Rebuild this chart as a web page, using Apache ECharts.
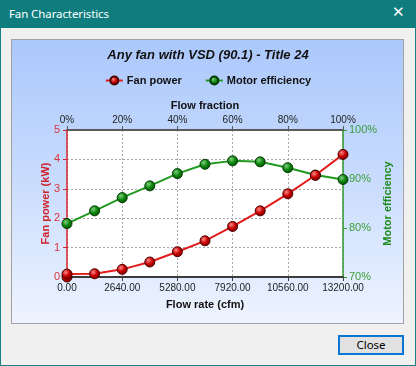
<!DOCTYPE html>
<html>
<head>
<meta charset="utf-8">
<script src="https://cdn.jsdelivr.net/npm/echarts@6/dist/echarts.min.js"></script>
<style>
html,body{margin:0;padding:0;width:416px;height:366px;overflow:hidden;background:#f0f0f0;font-family:"Liberation Sans",Arial,sans-serif;}
#win{position:absolute;left:0;top:0;width:414px;height:365px;border:1px solid #1a7f80;border-top:none;background:#f0f0f0;}
#titlebar{position:absolute;left:0;top:0;width:416px;height:28px;background:#0f7d7e;color:#fff;}
#titletext{position:absolute;left:9px;top:6px;font-family:"Noto Sans",sans-serif;font-size:11.5px;letter-spacing:-0.1px;}
#xbtn{position:absolute;left:392px;top:3px;font-family:"DejaVu Sans",sans-serif;font-size:15px;color:#fff;}
#panel{position:absolute;left:11px;top:39px;width:391px;height:283px;border:1px solid #a3a3a3;background:linear-gradient(to bottom,#abc8fc 0%,#c6dafd 45%,#eef4ff 100%);}
#closebtn{position:absolute;left:338px;top:335px;width:62px;height:16px;border:2px solid #0a76d4;background:#e1e1e1;font-family:"Noto Sans",sans-serif;font-size:11.5px;text-align:center;line-height:16px;color:#000;}
#chart{position:absolute;left:0;top:0;width:416px;height:366px;}
</style>
</head>
<body>
<div id="win"></div>
<div id="titlebar"><span id="titletext">Fan Characteristics</span><span id="xbtn">✕</span></div>
<div id="panel"></div>
<div id="closebtn">Close</div>
<div id="chart"></div>
<script>
// Data
const chartTitle = 'Any fan with VSD (90.1) - Title 24';
const flowRate = [0, 0, 1320, 2640, 3960, 5280, 6600, 7920, 9240, 10560, 11880, 13200];
const fanPower = [0, 0.10, 0.11, 0.26, 0.51, 0.86, 1.23, 1.72, 2.25, 2.83, 3.46, 4.17];
const effFlow = [0, 1320, 2640, 3960, 5280, 6600, 7920, 9240, 10560, 11880, 13200];
const motorEff = [80.9, 83.5, 86.2, 88.6, 91.1, 93.0, 93.7, 93.5, 92.3, 90.8, 89.9];
const flowTicks = [0, 2640, 5280, 7920, 10560, 13200];
const fractionTicks = [0, 20, 40, 60, 80, 100];

const FONT = '"Liberation Sans", Arial, sans-serif';
function ball(c1, c2, c3) {
  return {type:'radial', x:0.38, y:0.35, r:0.7, colorStops:[{offset:0,color:c1},{offset:0.5,color:c2},{offset:1,color:c3}]};
}
const chart = echarts.init(document.getElementById('chart'), null, {renderer:'canvas'});
chart.setOption({
  animation:false,
  title:{text:chartTitle, left:'center', top:44, textStyle:{fontFamily:FONT, fontSize:13, fontWeight:'bold', fontStyle:'italic', color:'#111'}},
  legend:{top:70, left:'center', itemWidth:17, itemHeight:10, itemGap:23,
    textStyle:{fontFamily:FONT, fontSize:11, fontWeight:'bold', color:'#111', padding:[0,0,0,-1]},
    data:['Fan power','Motor efficiency']},
  grid:{left:67, right:73, top:130, bottom:89, show:true, backgroundColor:'#ffffff', borderWidth:0},
  xAxis:[
    {type:'value', position:'bottom', min:0, max:13200, interval:2640,
     name:'Flow rate (cfm)', nameLocation:'middle', nameGap:22, nameMoveOverlap:false,
     nameTextStyle:{fontFamily:FONT, fontSize:11, fontWeight:'bold', color:'#111'},
     axisLine:{show:true, onZero:false, lineStyle:{color:'#3c3c3c', width:2}},
     axisTick:{show:true, length:4, lineStyle:{color:'#3c3c3c'}},
     axisLabel:{fontFamily:FONT, fontSize:10, color:'#222', margin:6, formatter:v=>v.toFixed(2)},
     splitLine:{show:true, lineStyle:{color:'#a8a8a8', type:[2,2], width:1}}},
    {type:'value', position:'top', min:0, max:100, interval:20,
     name:'Flow fraction', nameLocation:'middle', nameGap:19, nameMoveOverlap:false,
     nameTextStyle:{fontFamily:FONT, fontSize:11, fontWeight:'bold', color:'#111'},
     axisLine:{show:true, onZero:false, lineStyle:{color:'#5a5a5a', width:2}},
     axisTick:{show:true, length:4, lineStyle:{color:'#5a5a5a'}},
     axisLabel:{fontFamily:FONT, fontSize:10, color:'#222', margin:5, formatter:'{value}%'},
     splitLine:{show:false}}
  ],
  yAxis:[
    {type:'value', position:'left', min:0, max:5, interval:1,
     name:'Fan power (kW)', nameLocation:'middle', nameGap:16, nameRotate:90, nameMoveOverlap:false,
     nameTextStyle:{fontFamily:FONT, fontSize:11, fontWeight:'bold', color:'#d0202a'},
     axisLine:{show:true, onZero:false, lineStyle:{color:'#d6262e', width:1.5}},
     axisTick:{show:true, length:4, lineStyle:{color:'#d6262e'}},
     axisLabel:{fontFamily:FONT, fontSize:11, color:'#d9343b', margin:7},
     splitLine:{show:true, lineStyle:{color:'#a8a8a8', type:[2,2], width:1}}},
    {type:'value', position:'right', min:70, max:100, interval:10,
     name:'Motor efficiency', nameLocation:'middle', nameGap:39, nameRotate:90, nameMoveOverlap:false,
     nameTextStyle:{fontFamily:FONT, fontSize:11, fontWeight:'bold', color:'#1d8a1d'},
     axisLine:{show:true, onZero:false, lineStyle:{color:'#2e9a2e', width:1.5}},
     axisTick:{show:true, length:4, lineStyle:{color:'#2e9a2e'}},
     axisLabel:{fontFamily:FONT, fontSize:11, color:'#3a9e3a', margin:6, formatter:'{value}%'},
     splitLine:{show:false}}
  ],
  series:[
    {name:'Fan power', type:'line', xAxisIndex:0, yAxisIndex:0,
     data:flowRate.map((x,i)=>[x,fanPower[i]]),
     symbol:'circle', symbolSize:10, showAllSymbol:true,
     lineStyle:{color:'#e21c1c', width:2},
     itemStyle:{color:ball('#ff8a8a','#c80000','#7a0000'), borderColor:'#4a0000', borderWidth:1},
     z:3},
    {name:'Motor efficiency', type:'line', xAxisIndex:0, yAxisIndex:1,
     data:effFlow.map((x,i)=>[x,motorEff[i]]),
     symbol:'circle', symbolSize:10, showAllSymbol:true,
     lineStyle:{color:'#1f9a1f', width:2},
     itemStyle:{color:ball('#7fd07f','#0c860c','#044c04'), borderColor:'#033a03', borderWidth:1},
     z:2}
  ]
});
</script>
</body>
</html>
